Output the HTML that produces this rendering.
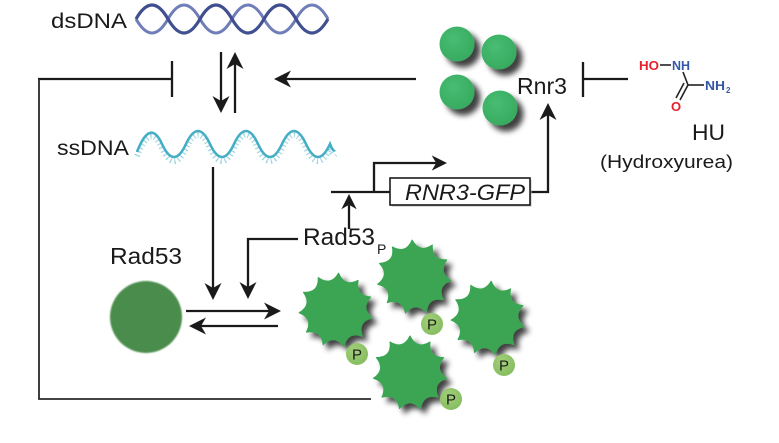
<!DOCTYPE html>
<html><head><meta charset="utf-8"><style>
html,body{margin:0;padding:0;background:#fff;}
svg{display:block;}
text{font-family:"Liberation Sans",sans-serif;fill:#1a1a1a;}
</style></head><body>
<svg width="779" height="443" viewBox="0 0 779 443" xmlns="http://www.w3.org/2000/svg">
<defs>
 <filter id="sh" x="-50%" y="-50%" width="200%" height="200%">
  <feGaussianBlur in="SourceAlpha" stdDeviation="3"/>
  <feOffset dx="5" dy="5" result="b"/>
  <feComponentTransfer><feFuncA type="linear" slope="0.75"/></feComponentTransfer>
  <feMerge><feMergeNode/><feMergeNode in="SourceGraphic"/></feMerge>
 </filter>
 <filter id="sh2" x="-60%" y="-60%" width="220%" height="220%">
  <feGaussianBlur in="SourceAlpha" stdDeviation="3"/>
  <feOffset dx="6" dy="6" result="b"/>
  <feComponentTransfer><feFuncA type="linear" slope="0.75"/></feComponentTransfer>
  <feMerge><feMergeNode/><feMergeNode in="SourceGraphic"/></feMerge>
 </filter>
 <filter id="soft" x="-20%" y="-20%" width="140%" height="140%">
  <feGaussianBlur stdDeviation="0.9"/>
 </filter>
 <radialGradient id="dotg" cx="40%" cy="35%" r="75%">
  <stop offset="0" stop-color="#48bd72"/>
  <stop offset="1" stop-color="#35a85d"/>
 </radialGradient>
 <radialGradient id="pg" cx="40%" cy="35%" r="70%">
  <stop offset="0" stop-color="#a3d07a"/>
  <stop offset="1" stop-color="#84bc5e"/>
 </radialGradient>
 <pattern id="stripes" width="4" height="40" patternUnits="userSpaceOnUse">
  <rect x="0" y="0" width="1.3" height="40" fill="#a3addb"/>
 </pattern>
 <path id="star" d="M0,-37 Q6.8,-23 20,-31.1 Q18.1,-15.7 33.7,-15.4 Q23.8,-3.4 36.6,5.3 Q21.8,10 28,24.2 Q13,20.2 10.4,35.5 Q0,24 -10.4,35.5 Q-13,20.2 -28,24.2 Q-21.8,10 -36.6,5.3 Q-23.8,-3.4 -33.7,-15.4 Q-18.1,-15.7 -20,-31.1 Q-6.8,-23 0,-37 Z" fill="#3ba552" stroke="#3ba552" stroke-width="1" stroke-linejoin="round"/>
 <path id="ah" d="M0,0 L-17,-8.5 L-12,0 L-17,8.5 Z" fill="#1a1a1a"/>
</defs>

<!-- dsDNA -->
<text x="51" y="28" font-size="21" textLength="76" lengthAdjust="spacingAndGlyphs">dsDNA</text>
<path d="M136,19 Q152,-9 168,19 T200,19 T232,19 T264,19 T296,19 T328,19 L328,19 Q312,47 296,19 Q280,-9 264,19 Q248,47 232,19 Q216,-9 200,19 Q184,47 168,19 Q152,-9 136,19 Z" fill="url(#stripes)" opacity="0.9"/>
<path d="M136,19 Q152,47 168,19 T200,19 T232,19 T264,19 T296,19 T328,19" fill="none" stroke="#6f7db8" stroke-width="3"/>
<path d="M136,19 Q152,-9 168,19 T200,19 T232,19 T264,19 T296,19 T328,19" fill="none" stroke="#3f4f8f" stroke-width="3.2"/>

<!-- ssDNA -->
<text x="57" y="155" font-size="21" textLength="72" lengthAdjust="spacingAndGlyphs">ssDNA</text>
<path d="M137,152 Q150,118 162,144 T186,144 T210,144 T234,144 T258,144 T282,144 T306,144 T330,144 Q333,152 335,150" transform="translate(0,4)" fill="none" stroke="#9fd6e2" stroke-width="6" stroke-dasharray="1.2 2.8"/>
<path d="M137,152 Q150,118 162,144 T186,144 T210,144 T234,144 T258,144 T282,144 T306,144 T330,144 Q333,152 335,150" fill="none" stroke="#45aec4" stroke-width="2.6"/>

<!-- connectors -->
<g stroke="#1a1a1a" stroke-width="2.3" fill="none">
 <line x1="221" y1="52" x2="221" y2="102"/>
 <line x1="235" y1="113" x2="235" y2="63"/>
 <line x1="38" y1="79" x2="172" y2="79"/>
 <line x1="172" y1="61" x2="172" y2="97"/>
 <line x1="286" y1="79" x2="416" y2="79"/>
 <line x1="213" y1="167" x2="213" y2="289"/>
 <polyline points="298,239 248,239 248,288"/>
 <line x1="186" y1="311" x2="270" y2="311"/>
 <line x1="278" y1="326" x2="200" y2="326"/>
 <line x1="583" y1="79" x2="628" y2="79"/>
 <line x1="583" y1="62" x2="583" y2="97"/>
 <polyline points="530,192 548,192 548,114"/>
 <line x1="331" y1="192" x2="390" y2="192"/>
 <polyline points="374,192 374,163 436,163"/>
 <line x1="349" y1="229" x2="349" y2="205"/>
</g>
<g stroke="#2a2a2a" stroke-width="1.8" fill="none">
 <polyline points="39,79 39,399 371,399"/>
</g>

<use href="#ah" transform="translate(221,113) rotate(90)"/>
<use href="#ah" transform="translate(235,52) rotate(-90)"/>
<use href="#ah" transform="translate(274,79) rotate(180)"/>
<use href="#ah" transform="translate(213,300) rotate(90)"/>
<use href="#ah" transform="translate(248,299) rotate(90)"/>
<use href="#ah" transform="translate(281,311)"/>
<use href="#ah" transform="translate(189,326) rotate(180)"/>
<use href="#ah" transform="translate(548,103) rotate(-90)"/>
<use href="#ah" transform="translate(447,163) scale(0.9)"/>
<use href="#ah" transform="translate(349,194) rotate(-90) scale(0.9)"/>

<!-- RNR3-GFP box -->
<rect x="391.5" y="179.5" width="140" height="27" fill="#bbb"/>
<rect x="390" y="178" width="140" height="27" fill="#fff" stroke="#1a1a1a" stroke-width="1.6"/>
<text x="405" y="200" font-size="22" font-style="italic" textLength="120" lengthAdjust="spacingAndGlyphs">RNR3-GFP</text>

<!-- Rnr3 dots -->
<g filter="url(#sh2)">
 <circle cx="457" cy="44" r="17.5" fill="url(#dotg)"/>
 <circle cx="499" cy="52" r="17.5" fill="url(#dotg)"/>
 <circle cx="457" cy="92" r="17.5" fill="url(#dotg)"/>
 <circle cx="500" cy="108" r="17.5" fill="url(#dotg)"/>
</g>
<text x="517" y="94" font-size="23" textLength="50" lengthAdjust="spacingAndGlyphs">Rnr3</text>

<!-- HU molecule -->
<g font-weight="bold" font-size="13">
 <text x="639" y="70" style="fill:#e5222b" textLength="20" lengthAdjust="spacingAndGlyphs">HO</text>
 <text x="672" y="70" style="fill:#3557a6" textLength="18" lengthAdjust="spacingAndGlyphs">NH</text>
 <text x="705" y="90" style="fill:#3557a6" textLength="20" lengthAdjust="spacingAndGlyphs">NH</text>
 <text x="726" y="93" font-size="8" style="fill:#3557a6">2</text>
 <text x="671" y="111" style="fill:#e5222b">O</text>
</g>
<g stroke="#222" stroke-width="1.6" fill="none">
 <line x1="660" y1="65" x2="671" y2="65"/>
 <line x1="683" y1="72" x2="688" y2="85"/>
 <line x1="688" y1="85" x2="704" y2="85"/>
 <line x1="688" y1="85" x2="680" y2="100"/>
 <line x1="684" y1="83" x2="676" y2="98"/>
</g>
<text x="692" y="140" font-size="22" textLength="33" lengthAdjust="spacingAndGlyphs">HU</text>
<text x="600" y="168" font-size="18" textLength="133" lengthAdjust="spacingAndGlyphs">(Hydroxyurea)</text>

<!-- Rad53 -->
<text x="110" y="264" font-size="23" textLength="72" lengthAdjust="spacingAndGlyphs">Rad53</text>
<circle cx="146" cy="317" r="36" fill="#4a8c4b" filter="url(#soft)"/>

<!-- Rad53P -->
<text x="303" y="245" font-size="24" textLength="72" lengthAdjust="spacingAndGlyphs">Rad53</text>
<text x="377" y="254" font-size="14">P</text>

<g filter="url(#sh)">
 <use href="#star" transform="translate(336,310) rotate(4)"/>
 <use href="#star" transform="translate(414,277) rotate(-3)"/>
 <use href="#star" transform="translate(488,318) rotate(5)"/>
 <use href="#star" transform="translate(410,373) rotate(0)"/>
</g>
<g>
 <circle cx="357" cy="354" r="11" fill="url(#pg)"/>
 <circle cx="432" cy="324" r="11" fill="url(#pg)"/>
 <circle cx="504" cy="365" r="11" fill="url(#pg)"/>
 <circle cx="451" cy="399" r="11" fill="url(#pg)"/>
</g>
<g font-size="15" text-anchor="middle">
 <text x="357" y="359.5">P</text>
 <text x="432" y="329.5">P</text>
 <text x="504" y="370.5">P</text>
 <text x="451" y="404.5">P</text>
</g>
</svg>
</body></html>
